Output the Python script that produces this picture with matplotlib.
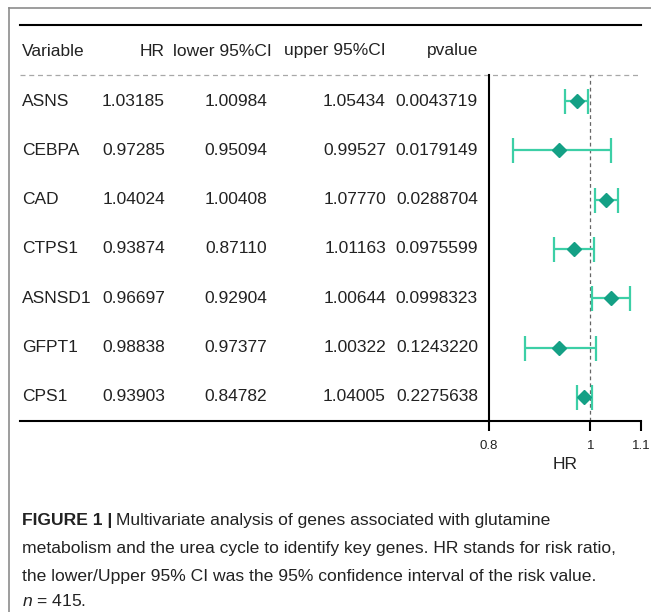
import matplotlib
matplotlib.use("Agg")
import matplotlib.pyplot as plt

plt.rcParams['font.family'] = ['Liberation Sans', 'DejaVu Sans']
plt.rcParams['mathtext.fontset'] = 'custom'
plt.rcParams['mathtext.rm'] = 'Liberation Sans'
plt.rcParams['mathtext.it'] = 'Liberation Sans:italic'

# table values
genes = ['ASNS', 'CEBPA', 'CAD', 'CTPS1', 'ASNSD1', 'GFPT1', 'CPS1']
hr = ['1.03185', '0.97285', '1.04024', '0.93874', '0.96697', '0.98838', '0.93903']
lower = ['1.00984', '0.95094', '1.00408', '0.87110', '0.92904', '0.97377', '0.84782']
upper = ['1.05434', '0.99527', '1.07770', '1.01163', '1.00644', '1.00322', '1.04005']
pvalue = ['0.0043719', '0.0179149', '0.0288704', '0.0975599', '0.0998323', '0.1243220', '0.2275638']
headers = ['Variable', 'HR', 'lower 95%CI', 'upper 95%CI', 'pvalue']
# the figure draws the intervals in this gene order, row by row
plot_order = [1, 6, 0, 4, 2, 3, 5]
xticks = [0.8, 1.0, 1.1]
xtick_labels = ['0.8', '1', '1.1']

W, H = 651, 612
fig = plt.figure(figsize=(W / 100, H / 100), dpi=100)

# pixel-space background axes for the table
bg = fig.add_axes([0, 0, 1, 1])
bg.set_xlim(0, W)
bg.set_ylim(H, 0)
bg.axis('off')

txt = '#222222'
# outer frame
bg.plot([9, 9], [8, H], color='#8c8c8c', lw=1.2)
bg.plot([9, W], [8, 8], color='#8c8c8c', lw=1.2)
# table rules
bg.plot([20, 641], [25, 25], color='black', lw=1.5)
bg.plot([20, 641], [75, 75], color='#a8a8a8', lw=0.9, ls=(0, (4, 3)))
bg.plot([20, 489], [421, 421], color='black', lw=1.5)

fs = 12.5
y_head = 51
bg.text(22, y_head, headers[0], fontsize=fs, color=txt, va='center', ha='left')
bg.text(165, y_head, headers[1], fontsize=fs, color=txt, va='center', ha='right')
bg.text(272, y_head, headers[2], fontsize=fs, color=txt, va='center', ha='right')
bg.text(386, y_head, headers[3], fontsize=fs, color=txt, va='center', ha='right')
bg.text(478, y_head, headers[4], fontsize=fs, color=txt, va='center', ha='right')

row_y0, row_dy = 101, 49.33
for i, g in enumerate(genes):
    y = row_y0 + i * row_dy
    bg.text(22, y, g, fontsize=fs, color=txt, va='center', ha='left')
    bg.text(165, y, hr[i], fontsize=fs, color=txt, va='center', ha='right')
    bg.text(267, y, lower[i], fontsize=fs, color=txt, va='center', ha='right')
    bg.text(386, y, upper[i], fontsize=fs, color=txt, va='center', ha='right')
    bg.text(478, y, pvalue[i], fontsize=fs, color=txt, va='center', ha='right')

# forest axes
x0, x1, ytop, ybot = 489, 641, 75, 421
ax = fig.add_axes([x0 / W, 1 - ybot / H, (x1 - x0) / W, (ybot - ytop) / H])
ax.set_facecolor('none')
ax.set_xlim(0.8, 1.1)
ax.set_ylim(6 + (ybot - (row_y0 + 6 * row_dy)) / row_dy, -(row_y0 - ytop) / row_dy)
for s in ['top', 'right']:
    ax.spines[s].set_visible(False)
for s in ['left', 'bottom']:
    ax.spines[s].set_linewidth(1.5)
ax.set_yticks([])
ax.set_xticks(xticks)
ax.set_xticklabels(xtick_labels, fontsize=9.5, color=txt)
ax.tick_params(axis='x', length=7, width=1.5, pad=7)
ax.set_xlabel('HR', fontsize=12.5, color=txt, labelpad=3)
ax.axvline(1.0, color='#666666', lw=0.9, ls=(0, (3, 2.5)))

for row, k in enumerate(plot_order):
    h, lo, up = float(hr[k]), float(lower[k]), float(upper[k])
    ax.errorbar(h, row, xerr=[[h - lo], [up - h]], fmt='none', ecolor='#3ccfa6',
                elinewidth=1.6, capsize=9, capthick=1.6)
    ax.plot(h, row, marker='D', ms=7.5, color='#14a085', mec='#14a085')

# caption
cap_fs = 12.6
cy = [521, 549, 577, 601]
b = bg.text(22, cy[0], 'FIGURE 1 |', fontsize=cap_fs, fontweight='bold', color=txt, va='center')
fig.canvas.draw()
bb = b.get_window_extent().transformed(bg.transData.inverted())
bg.text(bb.x1 + 4, cy[0], 'Multivariate analysis of genes associated with glutamine',
        fontsize=cap_fs, color=txt, va='center')
bg.text(22, cy[1], 'metabolism and the urea cycle to identify key genes. HR stands for risk ratio,',
        fontsize=cap_fs, color=txt, va='center')
bg.text(22, cy[2], 'the lower/Upper 95% CI was the 95% confidence interval of the risk value.',
        fontsize=cap_fs, color=txt, va='center')
bg.text(22, cy[3], r'$n$ = 415.', fontsize=cap_fs, color=txt, va='center')

fig.savefig('out.png', dpi=100)
